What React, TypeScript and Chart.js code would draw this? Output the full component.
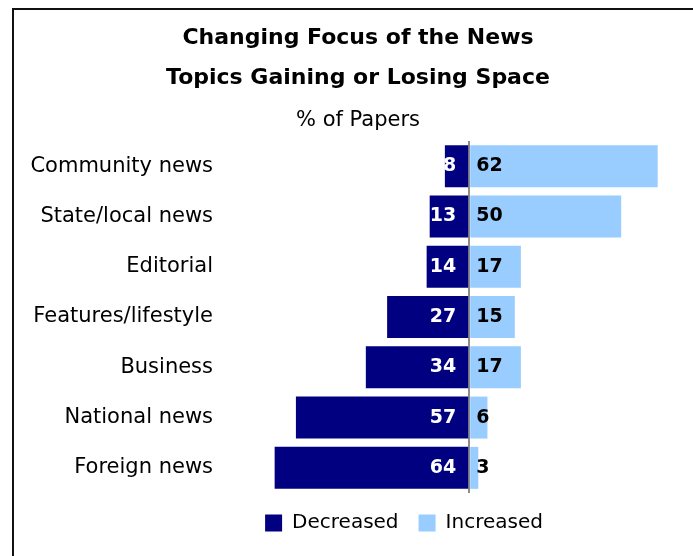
import { useEffect, useRef } from "react";
import { Chart, registerables } from "chart.js";

Chart.register(...registerables);

const TITLE_LINES = ["Changing Focus of the News", "Topics Gaining or Losing Space"];
const SUBTITLE = "% of Papers";
const CATEGORIES = [
  "Community news",
  "State/local news",
  "Editorial",
  "Features/lifestyle",
  "Business",
  "National news",
  "Foreign news",
];
const DECREASED = [8, 13, 14, 27, 34, 57, 64];
const INCREASED = [62, 50, 17, 15, 17, 6, 3];
const SERIES_NAMES = ["Decreased", "Increased"];
const SERIES_COLORS = ["#000080", "#99CCFF"];

const FONT = "DejaVu Sans";

const framePlugin = {
  id: "frame",
  beforeDraw(chart: any) {
    const ctx = chart.ctx;
    ctx.save();
    ctx.strokeStyle = "#111";
    ctx.lineWidth = 2;
    ctx.beginPath();
    ctx.moveTo(13, chart.height);
    ctx.lineTo(13, 9);
    ctx.lineTo(chart.width, 9);
    ctx.stroke();
    ctx.restore();
  },
};

// Shift the centred header and legend boxes so they sit where the reference has them
const boxShiftPlugin = {
  id: "boxShift",
  afterLayout(chart: any) {
    const shift = (b: any, dx: number) => {
      if (!b) return;
      b.left += dx;
      b.right += dx;
    };
    shift(chart.titleBlock, 12);
    const sub = chart.boxes.find(
      (b: any) => b !== chart.titleBlock && b.options && b.options.text === SUBTITLE
    );
    shift(sub, 12);
    shift(chart.legend, 58);
  },
};

const valueLabelPlugin = {
  id: "valueLabels",
  afterDatasetsDraw(chart: any) {
    const ctx = chart.ctx;
    ctx.save();
    ctx.font = `bold 19px "${FONT}"`;
    ctx.textBaseline = "middle";
    chart.data.datasets.forEach((ds: any, di: number) => {
      const meta = chart.getDatasetMeta(di);
      meta.data.forEach((bar: any, i: number) => {
        const raw = di === 0 ? DECREASED[i] : INCREASED[i];
        const { y, base } = bar.getProps(["x", "y", "base"], true);
        if (di === 0) {
          ctx.fillStyle = "#ffffff";
          ctx.textAlign = "right";
          ctx.fillText(String(raw), base - 12, y);
        } else {
          ctx.fillStyle = "#000000";
          ctx.textAlign = "left";
          ctx.fillText(String(raw), base + 6, y);
        }
      });
    });
    ctx.restore();
  },
};

export default function App() {
  const canvasRef = useRef<HTMLCanvasElement | null>(null);

  useEffect(() => {
    if (!canvasRef.current) return;
    const chart = new Chart(canvasRef.current, {
      type: "bar",
      data: {
        labels: CATEGORIES,
        datasets: [
          {
            label: SERIES_NAMES[0],
            data: DECREASED.map((v) => -v),
            backgroundColor: SERIES_COLORS[0],
            borderWidth: 0,
            barPercentage: 0.835,
            categoryPercentage: 1,
          },
          {
            label: SERIES_NAMES[1],
            data: INCREASED,
            backgroundColor: SERIES_COLORS[1],
            borderWidth: 0,
            barPercentage: 0.835,
            categoryPercentage: 1,
          },
        ],
      },
      options: {
        indexAxis: "y",
        responsive: false,
        animation: false,
        layout: { padding: { left: 10, right: 11, top: 0, bottom: 13 } },
        scales: {
          x: {
            stacked: true,
            min: -80,
            max: 70,
            z: 1,
            ticks: { display: false, stepSize: 10 },
            border: { display: false },
            grid: {
              drawTicks: false,
              lineWidth: 2,
              color: (c: any) =>
                c.tick && c.tick.value === 0 ? "#8c8c8c" : "rgba(0,0,0,0)",
            },
            afterFit: (s: any) => {
              s.height = 0;
            },
          },
          y: {
            stacked: true,
            grid: { display: false, drawTicks: false },
            border: { display: false },
            ticks: {
              color: "#000",
              padding: 13,
              font: { family: FONT, size: 21 },
            },
            afterFit: (s: any) => {
              s.width = 216;
            },
          },
        },
        plugins: {
          title: {
            display: true,
            text: TITLE_LINES,
            color: "#000",
            font: { family: FONT, size: 22, weight: "bold", lineHeight: 40 / 22 },
            padding: { top: 18, bottom: 11 },
          },
          subtitle: {
            display: true,
            text: SUBTITLE,
            color: "#000",
            font: { family: FONT, size: 21, weight: "normal", lineHeight: 24 / 21 },
            padding: { top: 0, bottom: 8 },
          },
          legend: {
            position: "bottom",
            labels: {
              color: "#000",
              boxWidth: 17,
              boxHeight: 17,
              padding: 20,
              font: { family: FONT, size: 20 },
            },
          },
          tooltip: { enabled: false },
        },
      } as any,
      plugins: [framePlugin, boxShiftPlugin, valueLabelPlugin],
    });
    return () => chart.destroy();
  }, []);

  return (
    <div style={{ position: "fixed", left: 0, top: 0, width: 693, height: 556, background: "#fff" }}>
      <canvas ref={canvasRef} width={693} height={556} style={{ display: "block" }} />
    </div>
  );
}
